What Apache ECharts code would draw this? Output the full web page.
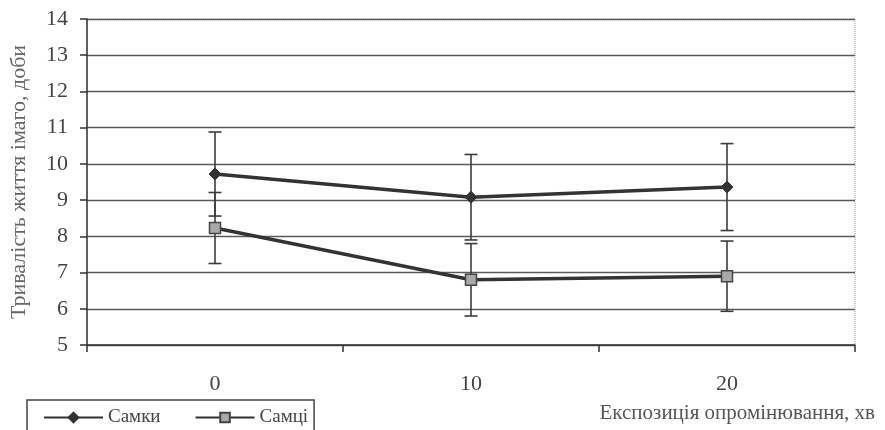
<!DOCTYPE html>
<html><head><meta charset="utf-8">
<script src="https://cdn.jsdelivr.net/npm/echarts@6/dist/echarts.min.js"></script>
<style>html,body{margin:0;padding:0;background:#fff}#c{width:885px;height:430px}</style>
</head><body><div id="c"></div>
<script>
const categories = ['0', '10', '20'];
const females = [9.72, 9.08, 9.36];
const femalesErr = [1.16, 1.18, 1.20];
const males = [8.23, 6.80, 6.90];
const malesErr = [0.98, 1.00, 0.97];
const yTicks = [5, 6, 7, 8, 9, 10, 11, 12, 13, 14];

const ink = '#333333';
const serif = '"Liberation Serif", "DejaVu Serif", serif';

function errData(vals, errs) {
  return vals.map((v, i) => [i, v - errs[i], v + errs[i]]);
}
function errRender(params, api) {
  const i = api.value(0);
  const lo = api.coord([i, api.value(1)]);
  const hi = api.coord([i, api.value(2)]);
  const w = 6.5;
  const st = { stroke: '#3c3c3c', lineWidth: 1.6 };
  return { type: 'group', children: [
    { type: 'line', shape: { x1: hi[0], y1: hi[1], x2: lo[0], y2: lo[1] }, style: st },
    { type: 'line', shape: { x1: hi[0] - w, y1: hi[1], x2: hi[0] + w, y2: hi[1] }, style: st },
    { type: 'line', shape: { x1: lo[0] - w, y1: lo[1], x2: lo[0] + w, y2: lo[1] }, style: st }
  ]};
}

const chart = echarts.init(document.getElementById('c'), null, { renderer: 'canvas' });
chart.setOption({
  backgroundColor: '#ffffff',
  animation: false,
  textStyle: { fontFamily: serif },
  grid: { left: 87, top: 19, right: 30, bottom: 85, show: true, borderColor: '#999', borderWidth: 1, borderType: 'dotted' },
  legend: {
    data: ['Самки', 'Самці'],
    left: 27, top: 400,
    orient: 'horizontal',
    itemWidth: 59, itemHeight: 12, itemGap: 34,
    padding: [8, 6, 10, 16],
    borderColor: '#444', borderWidth: 1.5,
    textStyle: { fontFamily: serif, fontSize: 19, color: '#444' }
  },
  xAxis: {
    type: 'category',
    data: categories,
    boundaryGap: true,
    axisLine: { lineStyle: { color: ink, width: 1.5 } },
    axisTick: { show: true, length: 7, lineStyle: { color: ink, width: 1.5 } },
    axisLabel: { fontFamily: serif, fontSize: 22, color: '#444', margin: 28 },
    splitLine: { show: false }
  },
  yAxis: {
    type: 'value',
    min: 5, max: 14, interval: 1,
    name: 'Тривалість життя імаго, доби',
    nameLocation: 'middle',
    nameGap: 57,
    nameTextStyle: { fontFamily: serif, fontSize: 22, color: '#666' },
    axisLine: { show: true, lineStyle: { color: ink, width: 1.5 } },
    axisTick: { show: true, length: 7, lineStyle: { color: ink, width: 1.5 } },
    axisLabel: { fontFamily: serif, fontSize: 22, color: '#444', margin: 19,
      formatter: v => yTicks.includes(v) ? String(v) : '' },
    splitLine: { show: true, lineStyle: { color: '#5a5a5a', width: 1.3 } }
  },
  graphic: [{
    type: 'text', right: 10, top: 403,
    style: { text: 'Експозиція опромінювання, хв', font: '21px ' + serif, fill: '#555' }
  }],
  series: [
    { name: 'errF', type: 'custom', renderItem: errRender, data: errData(females, femalesErr), z: 1, silent: true },
    { name: 'errM', type: 'custom', renderItem: errRender, data: errData(males, malesErr), z: 1, silent: true },
    { name: 'Самки', type: 'line', data: females, z: 3,
      symbol: 'diamond', symbolSize: 12,
      lineStyle: { color: ink, width: 3.5 },
      itemStyle: { color: ink, borderColor: ink, borderWidth: 1 } },
    { name: 'Самці', type: 'line', data: males, z: 3,
      symbol: 'rect', symbolSize: 11,
      lineStyle: { color: ink, width: 3.5 },
      itemStyle: { color: '#a8a8a8', borderColor: '#444', borderWidth: 1.5 } }
  ]
});
</script>
</body></html>
